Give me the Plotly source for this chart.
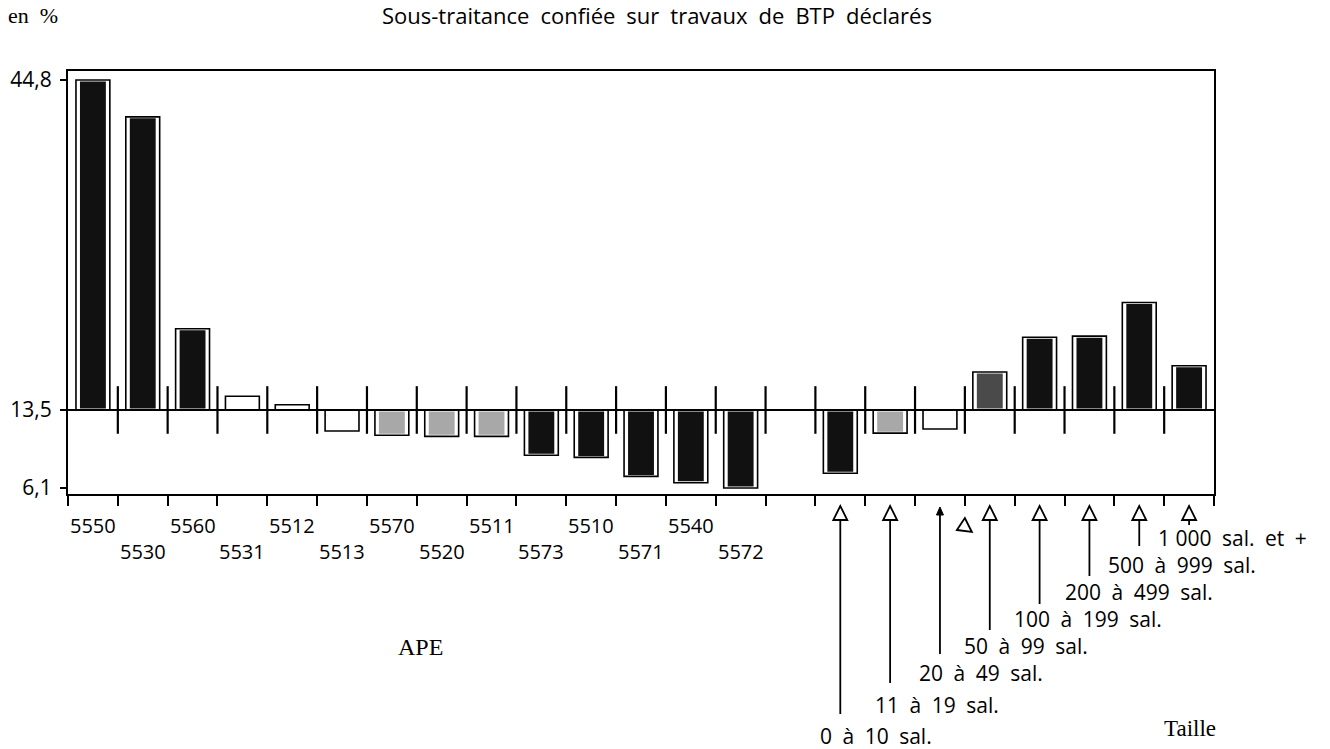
import plotly.graph_objects as go

# ---------------- data ----------------
ape_codes = ["5550", "5530", "5560", "5531", "5512", "5513", "5570",
             "5520", "5511", "5573", "5510", "5571", "5540", "5572"]
ape_values = [44.8, 41.3, 21.2, 14.8, 14.0, 11.5, 11.1,
              11.0, 11.0, 9.2, 9.0, 7.2, 6.6, 6.1]

size_labels = ["0 à 10 sal.", "11 à 19 sal.", "20 à 49 sal.", "50 à 99 sal.",
               "100 à 199 sal.", "200 à 499 sal.", "500 à 999 sal.", "1 000 sal. et +"]
size_values = [7.5, 11.3, 11.7, 17.1, 20.4, 20.5, 23.7, 17.7]

reference = 13.5
ytick_vals = [6.1, 13.5, 44.8]
ytick_text = ["6,1", "13,5", "44,8"]

title_text = "Sous-traitance confiée sur travaux de BTP déclarés"
unit_text = "en %"
ape_axis_text = "APE"
size_axis_text = "Taille"

# ---------------- layout constants (page pixels) ----------------
W, H = 1330, 749
L, R, T, B = 68, 1214, 71, 494
PH = B - T
Y0, Y1 = 5.53, 45.65
FONT = "Open Sans"
SERIF = "Liberation Serif"
SP = "\u2002"


def spaced(s):
    words = s.split(" ")
    out = words[0]
    for w in words[1:]:
        # keep thousands group tight ("1 000")
        if out[-1].isdigit() and w.isdigit() and len(w) == 3:
            out += " " + w
        else:
            out += SP + w
    return out


n_ape = len(ape_codes)
ape_x = list(range(n_ape))
size_x = [n_ape + 1 + i for i in range(len(size_labels))]
n_slots = n_ape + 1 + len(size_labels)

all_x = ape_x + size_x
all_v = ape_values + size_values


def fill_for(v):
    d = abs(v - reference)
    if d > 4:
        return "#111111"
    if d > 3:
        return "#4a4a4a"
    if d > 2.1:
        return "#a8a8a8"
    return "#ffffff"


def ypx_to_paper(ypx):
    return (B - ypx) / PH


fig = go.Figure()

# inner fill
fig.add_trace(go.Bar(
    x=all_x, y=[v - reference for v in all_v], base=reference,
    width=0.58, marker=dict(color=[fill_for(v) for v in all_v],
                            line=dict(color="white", width=3)),
    hoverinfo="skip", showlegend=False))
# outline
fig.add_trace(go.Bar(
    x=all_x, y=[v - reference for v in all_v], base=reference,
    width=0.68, marker=dict(color="rgba(0,0,0,0)",
                            line=dict(color="black", width=1.6)),
    hoverinfo="skip", showlegend=False))

# reference line ticks at slot boundaries
bounds_inner = [i + 0.5 for i in range(n_slots - 1)]
fig.add_trace(go.Scatter(
    x=bounds_inner, y=[reference] * len(bounds_inner), mode="markers",
    marker=dict(symbol="line-ns", size=34, line=dict(color="black", width=2.2)),
    hoverinfo="skip", showlegend=False, cliponaxis=False))

shapes = [dict(type="line", xref="paper", yref="y", x0=0, x1=1,
               y0=reference, y1=reference, line=dict(color="black", width=2))]

annotations = []
# APE tick labels, two staggered rows
for i, code in enumerate(ape_codes):
    row = i % 2
    ypx = 525 if row == 0 else 551
    annotations.append(dict(x=ape_x[i], xref="x", y=0, yref="paper",
                            yshift=-(ypx - B), text=code, showarrow=False,
                            xanchor="center", yanchor="middle",
                            font=dict(size=20, family=FONT, color="black")))

# size arrows + labels
label_y = [736, 705, 673, 646, 619, 592, 565, 538]
label_dx = [-22, -17, -23, -28, -28, -26, -33, -33]
line_bottom = [714, 683, 654, 630, 604, 576, 546, 525]
OPEN_TRI = "M0,8 L-7,-6 L7,-6 Z"
for i, lab in enumerate(size_labels):
    x = size_x[i]
    shapes.append(dict(type="line", xref="x", yref="paper", x0=x, x1=x,
                       y0=ypx_to_paper(509 if i == 2 else 520),
                       y1=ypx_to_paper(line_bottom[i]),
                       line=dict(color="black", width=1.8)))
    if i == 2:
        shapes.append(dict(type="path", xref="x", yref="paper",
                           xsizemode="pixel", ysizemode="pixel",
                           xanchor=x, yanchor=ypx_to_paper(512),
                           path="M0,5 L-3.5,-3 L3.5,-3 Z",
                           fillcolor="black", line=dict(color="black", width=1)))
    else:
        shapes.append(dict(type="path", xref="x", yref="paper",
                           xsizemode="pixel", ysizemode="pixel",
                           xanchor=x, yanchor=ypx_to_paper(514),
                           path=OPEN_TRI, fillcolor="white",
                           line=dict(color="black", width=1.8)))
    annotations.append(dict(x=x, xref="x", xshift=label_dx[i], y=0, yref="paper",
                            yshift=-(label_y[i] - B), text=spaced(lab), showarrow=False,
                            xanchor="left", yanchor="middle",
                            font=dict(size=21, family=FONT, color="black")))

# stray arrowhead between 20-49 and 50-99
shapes.append(dict(type="path", xref="x", yref="paper",
                   xsizemode="pixel", ysizemode="pixel",
                   xanchor=size_x[2] + 0.5, yanchor=ypx_to_paper(525),
                   path="M-8,-5 L7,-7 L0,7 Z", fillcolor="white",
                   line=dict(color="black", width=1.8)))

# texts
annotations += [
    dict(x=(657 - L) / (R - L), xref="paper", y=1, yref="paper", yshift=T - 15,
         text=spaced(title_text), showarrow=False, xanchor="center", yanchor="middle",
         font=dict(size=22, family=FONT, color="black")),
    dict(x=(6 - L) / (R - L), xref="paper", y=1, yref="paper", yshift=T - 15,
         text=spaced(unit_text), showarrow=False, xanchor="left", yanchor="middle",
         font=dict(size=22, family=SERIF, color="black")),
    dict(x=(420 - L) / (R - L), xref="paper", y=0, yref="paper", yshift=-(647 - B),
         text=ape_axis_text, showarrow=False, xanchor="center", yanchor="middle",
         font=dict(size=24, family=SERIF, color="black")),
    dict(x=(1190 - L) / (R - L), xref="paper", y=0, yref="paper", yshift=-(728 - B),
         text=size_axis_text, showarrow=False, xanchor="center", yanchor="middle",
         font=dict(size=23, family=SERIF, color="black")),
]

fig.update_layout(
    width=W, height=H,
    margin=dict(l=L, r=W - R, t=T, b=H - B, autoexpand=False),
    paper_bgcolor="white", plot_bgcolor="white", barmode="overlay",
    shapes=shapes, annotations=annotations, showlegend=False,
    font=dict(family=FONT, size=20, color="black"),
)
fig.update_xaxes(range=[-0.5, n_slots - 0.5], showgrid=False, zeroline=False,
                 showline=True, linecolor="black", linewidth=2, mirror=True,
                 tickmode="array", tickvals=[i - 0.5 for i in range(n_slots + 1)],
                 ticktext=[""] * (n_slots + 1), ticks="outside", ticklen=10,
                 tickwidth=2, tickcolor="black")
fig.update_yaxes(range=[Y0, Y1], showgrid=False, zeroline=False,
                 showline=True, linecolor="black", linewidth=2, mirror=True,
                 tickmode="array", tickvals=ytick_vals, ticktext=ytick_text,
                 ticks="outside", ticklen=6, tickwidth=2, tickcolor="black",
                 ticklabelstandoff=4,
                 tickfont=dict(size=21, family=FONT, color="black"))

# remove the page's default body margin so the figure fills the window exactly
fig.write_html("out.html", config={"displayModeBar": False},
               post_script="document.body.style.margin='0';"
                           "document.body.style.overflow='hidden';")
